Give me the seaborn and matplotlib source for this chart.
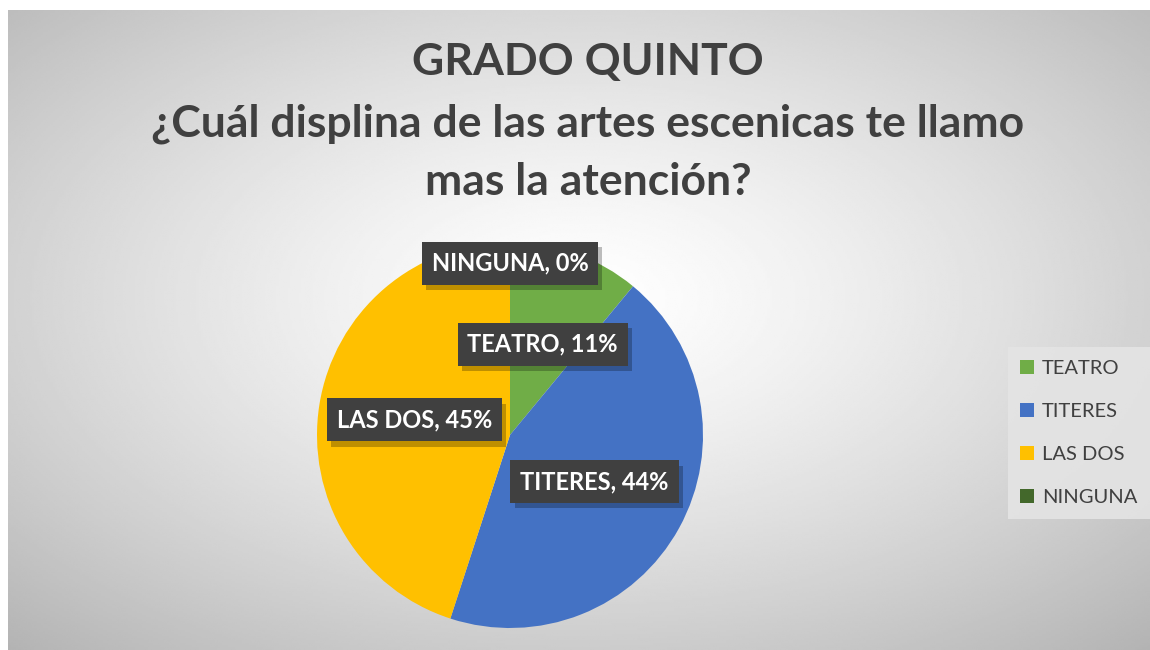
import numpy as np
import seaborn as sns
import matplotlib.pyplot as plt
from matplotlib.patches import Patch
import matplotlib.patheffects as pe

# data
categories = ["TEATRO", "TITERES", "LAS DOS", "NINGUNA"]
percent = [11, 44, 45, 0]
colors = ["#70AD47", "#4472C4", "#FFC000", "#43682B"]
title_lines = ["GRADO QUINTO",
               "¿Cuál displina de las artes escenicas te llamo",
               "mas la atención?"]

sns.set_style("white")
plt.rcParams["font.family"] = ["Lato", "DejaVu Sans"]

W, H = 1150, 650
fig = plt.figure(figsize=(W / 100, H / 100), dpi=100)
fig.patch.set_facecolor("white")

# radial gradient background of the chart area
bg = fig.add_axes([8 / W, 0, 1 - 8 / W, 1 - 10 / H])
yy, xx = np.mgrid[0:1:300j, 0:1:500j]
d = np.sqrt(((xx - 0.5) / 0.75) ** 2 + ((yy - 0.45) / 0.75) ** 2)
shade = np.clip(1.0 - 0.30 * d ** 1.3, 0, 1)
bg.imshow(shade, cmap="gray", vmin=0, vmax=1, aspect="auto",
          extent=[0, 1, 0, 1], origin="upper", interpolation="bilinear")
bg.set_axis_off()

# title
for line, ypx in zip(title_lines, [62, 124, 182]):
    fig.text(588 / W, 1 - ypx / H, line, ha="center", va="center",
             fontsize=32, fontweight="bold", color="#404040")

# pie
cx, cy, r = 510, H - 435, 193
ax = fig.add_axes([(cx - r) / W, (cy - r) / H, 2 * r / W, 2 * r / H])
wedges, _ = ax.pie(percent, colors=colors, startangle=90,
                   counterclock=False, radius=1,
                   wedgeprops=dict(linewidth=0, edgecolor="none"))
ax.set_xlim(-1, 1)
ax.set_ylim(-1, 1)
ax.set_axis_off()

# data labels
for w, cat, p in zip(wedges, categories, percent):
    ang = np.deg2rad((w.theta1 + w.theta2) / 2)
    dist = 0.89 if p == 0 else 0.5
    ax.text(dist * np.cos(ang), dist * np.sin(ang), f"{cat}, {p}%",
            ha="center", va="center", fontsize=17, fontweight="bold",
            color="white", zorder=5,
            bbox=dict(boxstyle="square,pad=0.42", facecolor="#404040",
                      edgecolor="none",
                      path_effects=[pe.withSimplePatchShadow(offset=(3, -4),
                                                             shadow_rgbFace="black",
                                                             alpha=0.25)]))

# legend
handles = [Patch(facecolor=c, edgecolor="none") for c in colors]
leg = fig.legend(handles, categories, loc="center left",
                 bbox_to_anchor=(1008 / W, 1 - 433 / H), frameon=True,
                 fontsize=14.5, labelcolor="#404040", handlelength=0.7,
                 handleheight=0.7, handletextpad=0.4, labelspacing=1.3,
                 borderpad=0.6, fancybox=False, borderaxespad=0)
leg.get_frame().set_facecolor("#e4e4e4")
leg.get_frame().set_edgecolor("none")
leg.get_frame().set_alpha(0.9)

fig.savefig("out.png", dpi=100)
